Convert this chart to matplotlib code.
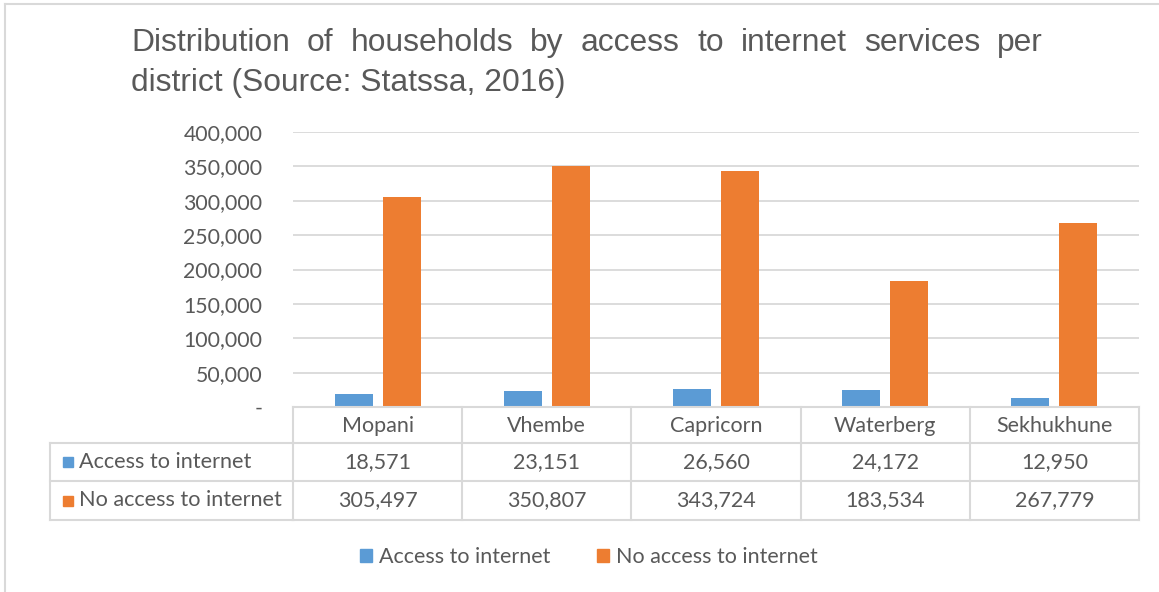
import matplotlib.pyplot as plt
from matplotlib.lines import Line2D
from matplotlib.patches import Rectangle
from matplotlib.transforms import blended_transform_factory
from matplotlib.ticker import FuncFormatter
import numpy as np

districts = ['Mopani', 'Vhembe', 'Capricorn', 'Waterberg', 'Sekhukhune']
access = [18571, 23151, 26560, 24172, 12950]
no_access = [305497, 350807, 343724, 183534, 267779]
series_names = ['Access to internet', 'No access to internet']
title_line1 = 'Distribution of households by access to internet services per'
title_line2 = 'district (Source: Statssa, 2016)'

BLUE = '#5B9BD5'
ORANGE = '#ED7D31'
TEXT = '#595959'
GRID = '#D9D9D9'

W, H = 1159, 592


def fx(x):
    return x / W


def fy(y):
    return 1 - y / H


fig = plt.figure(figsize=(W / 100, H / 100), dpi=100)
fig.patch.set_facecolor('white')

# outer chart border
fig.add_artist(Line2D([fx(5), fx(5)], [fy(4), fy(H)], color=GRID, lw=1.5))
fig.add_artist(Line2D([fx(5), 1], [fy(4), fy(4)], color=GRID, lw=1.5))

ax = fig.add_axes([fx(293), fy(407), fx(1139) - fx(293), fy(132) - fy(407)])
x = np.arange(len(districts))
bw = 0.225
off = 0.142
ax.bar(x - off, access, bw, color=BLUE, zorder=3)
ax.bar(x + off, no_access, bw, color=ORANGE, zorder=3)
ax.set_xlim(-0.5, len(districts) - 0.5)
ax.set_ylim(0, 400000)
ax.set_yticks(np.arange(0, 400001, 50000))
ax.yaxis.set_major_formatter(FuncFormatter(lambda v, p: '-' if v == 0 else f'{int(v):,}'))
ax.set_xticks([])
ax.tick_params(axis='y', length=0, pad=22, labelsize=15.3, labelcolor=TEXT)
for lab in ax.get_yticklabels():
    lab.set_fontfamily('Lato')
ax.grid(axis='y', color=GRID, lw=1.3, zorder=0)
for s in ax.spines.values():
    s.set_visible(False)

# data table under the plot area
tr = blended_transform_factory(ax.transData, fig.transFigure)
rows_y = [407, 443, 481, 520]
edges = np.arange(len(districts) + 1) - 0.5
lk = dict(color=GRID, lw=1.5, clip_on=False)
fig.add_artist(Line2D([edges[0], edges[-1]], [fy(rows_y[0])] * 2, transform=tr, **lk))
for yy in rows_y[1:]:
    fig.add_artist(Line2D([fx(50), fx(293)], [fy(yy)] * 2, **lk))
    fig.add_artist(Line2D([edges[0], edges[-1]], [fy(yy)] * 2, transform=tr, **lk))
fig.add_artist(Line2D([fx(50), fx(50)], [fy(rows_y[1]), fy(rows_y[-1])], **lk))
for e in edges:
    fig.add_artist(Line2D([e, e], [fy(rows_y[0]), fy(rows_y[-1])], transform=tr, **lk))

tk = dict(fontsize=15.5, color=TEXT, family='Lato', ha='center', va='center')
for i, d in enumerate(districts):
    fig.text(x[i], fy((rows_y[0] + rows_y[1]) / 2 + 1), d, transform=tr, **tk)
    fig.text(x[i], fy((rows_y[1] + rows_y[2]) / 2), f'{access[i]:,}', transform=tr, **tk)
    fig.text(x[i], fy((rows_y[2] + rows_y[3]) / 2), f'{no_access[i]:,}', transform=tr, **tk)

for j, (name, col) in enumerate(zip(series_names, [BLUE, ORANGE])):
    yc = (rows_y[j + 1] + rows_y[j + 2]) / 2
    fig.add_artist(Rectangle((fx(63), fy(yc + 5)), fx(10), 10 / H, color=col))
    fig.text(fx(79), fy(yc), name, fontsize=15.6, color=TEXT, family='Lato',
             ha='left', va='center')

# legend
handles = [Rectangle((0, 0), 1, 1, color=BLUE), Rectangle((0, 0), 1, 1, color=ORANGE)]
fig.legend(handles, series_names, loc='center', bbox_to_anchor=(fx(589), fy(557)),
           ncol=2, frameon=False, handlelength=0.55, handleheight=0.55,
           handletextpad=0.3, columnspacing=2.2,
           prop={'family': 'Lato', 'size': 15.5}, labelcolor=TEXT)

# justified title
renderer = fig.canvas.get_renderer()
tt = dict(fontsize=22.9, color=TEXT, family='Liberation Sans', va='baseline', ha='left')
words = title_line1.split()
objs = [fig.text(0, fy(51), w, **tt) for w in words]
widths = [o.get_window_extent(renderer).width for o in objs]
left, right = 131, 1043
gap = (right - left - sum(widths)) / (len(words) - 1)
pos = left
for o, w in zip(objs, widths):
    o.set_x(fx(pos))
    pos += w + gap
fig.text(fx(left), fy(91), title_line2, **tt)

fig.savefig('out.png', dpi=100)
